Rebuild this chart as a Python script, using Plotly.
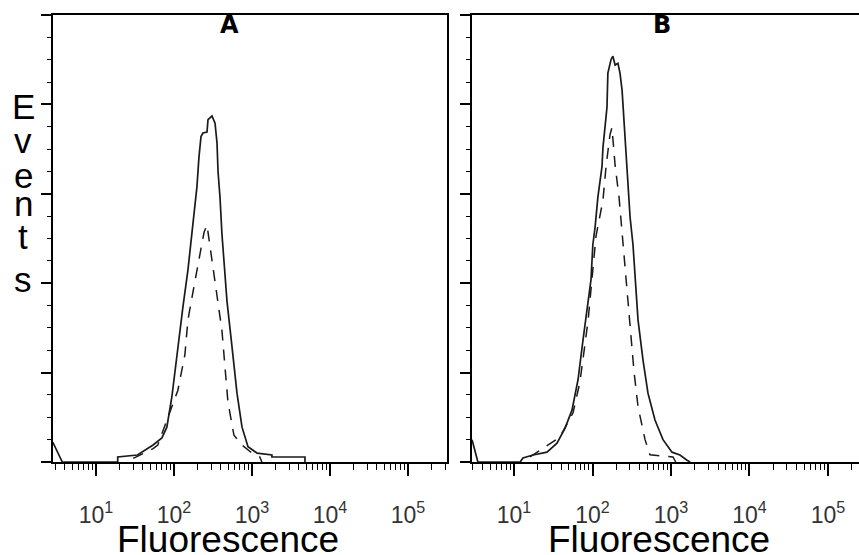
import plotly.graph_objects as go

# ---------------- data ----------------
# Panel A
a_solid_x = [2.8, 3.7, 19, 19, 34, 54, 70, 81, 94, 112, 130, 151, 175, 197, 209, 222, 235, 265, 273,
             307, 336, 356, 367, 389, 412, 438, 478, 554, 642, 745, 889, 1160, 1800, 1800, 4780, 4780]
a_solid_y = [22, 0, 0, 5.6, 7.8, 19, 27, 39, 73, 129, 173, 215, 269, 308, 341, 364, 368, 369, 383,
             387, 379, 357, 325, 296, 255, 220, 180, 129, 77, 39, 17, 10, 7.8, 5.6, 5.6, 0]
a_dash_x = [30, 54, 62, 89, 112, 138, 151, 180, 222, 243, 265, 307, 356, 412, 451, 492, 587, 745,
            1000, 1260, 1340]
a_dash_y = [4, 15, 19, 55, 80, 120, 159, 196, 237, 257, 265, 224, 186, 147, 106, 67, 30, 19,
            10, 5.6, 0]

# Panel B
b_solid_x = [2.92, 3.47, 12, 13, 17.5, 26.3, 35.3, 44.7, 54.8, 65.4, 75.6, 85.1, 95.7, 101, 108, 117,
             132, 136, 153, 157, 172, 182, 194, 211, 224, 238, 252, 267, 283, 301, 328, 348, 380,
             440, 509, 625, 791, 1030, 1300, 1600, 1750]
b_solid_y = [25, 0, 0, 4.5, 7.8, 11, 21, 38, 58, 92, 136, 170, 204, 243, 263, 296,
             330, 352, 397, 435, 450, 454, 444, 446, 435, 416, 383, 349, 308, 274, 243, 208, 159,
             114, 77, 47, 25, 11, 7.8, 2, 0]
b_dash_x = [16, 38.5, 56.5, 69, 80, 88, 101, 111, 136, 149, 167, 177, 194, 218, 238, 259, 283, 309,
            338, 380, 467, 540, 1060, 1150]
b_dash_y = [5.6, 28, 55, 89, 131, 159, 215, 253, 293, 331, 366, 374, 332, 296, 257, 218, 181, 142,
            101, 62, 25, 8, 5.6, 0]

tick_vals = [10, 100, 1000, 10000, 100000]
tick_text = ["10<sup>1</sup>", "10<sup>2</sup>", "10<sup>3</sup>", "10<sup>4</sup>", "10<sup>5</sup>"]
panel_titles = ["A", "B"]
x_title = "Fluorescence"
y_title = "Events"

# ---------------- figure ----------------
W, H = 859, 555
fig = go.Figure()

solid = dict(color="#1a1a1a", width=1.7)
dashed = dict(color="#1a1a1a", width=1.5, dash="11px,9px")

fig.add_trace(go.Scatter(x=a_solid_x, y=a_solid_y, mode="lines", line=solid, xaxis="x", yaxis="y"))
fig.add_trace(go.Scatter(x=a_dash_x, y=a_dash_y, mode="lines", line=dashed, xaxis="x", yaxis="y"))
fig.add_trace(go.Scatter(x=b_solid_x, y=b_solid_y, mode="lines", line=solid, xaxis="x2", yaxis="y2"))
fig.add_trace(go.Scatter(x=b_dash_x, y=b_dash_y, mode="lines", line=dashed, xaxis="x2", yaxis="y2"))

y_dom = [1 - 462 / H, 1 - 15 / H]

def xaxis_cfg(domain, rng, anchor):
    return dict(
        type="log", domain=domain, range=rng, anchor=anchor,
        showgrid=False, zeroline=False, showline=True, linecolor="black", linewidth=2,
        mirror=True,
        ticks="outside", ticklen=12, tickwidth=1.5, tickcolor="black",
        tickmode="array", tickvals=tick_vals, ticktext=tick_text,
        tickfont=dict(family="Liberation Sans, Arial, sans-serif", size=23, color="#333333"),
        ticklabelstandoff=19,
        minor=dict(ticks="outside", ticklen=6, tickwidth=1.2, tickcolor="black", dtick="D1",
                   showgrid=False),
        fixedrange=True,
    )

def yaxis_cfg(anchor, mirror):
    return dict(
        domain=y_dom, range=[0, 500], anchor=anchor,
        showgrid=False, zeroline=False, showline=True, linecolor="black", linewidth=2,
        mirror=mirror,
        ticks="outside", ticklen=10, tickwidth=1.5, tickcolor="black",
        dtick=100, tick0=0, showticklabels=False,
        minor=dict(ticks="outside", ticklen=4, tickwidth=1.2, tickcolor="black", dtick=25,
                   showgrid=False),
        fixedrange=True,
    )

fig.update_layout(
    width=W, height=H,
    margin=dict(l=0, r=0, t=0, b=0),
    paper_bgcolor="white", plot_bgcolor="white",
    showlegend=False,
    xaxis=xaxis_cfg([53 / W, 447 / W], [0.449, 5.5], "y"),
    yaxis=yaxis_cfg("x", True),
    xaxis2=xaxis_cfg([472 / W, 1.0], [0.465, 5.395], "y2"),
    yaxis2=yaxis_cfg("x2", False),
)

annotations = []
# panel titles
for title, xc in zip(panel_titles, [229.5, 662]):
    annotations.append(dict(text="<b>" + title + "</b>", x=xc / W, y=1 - 25.5 / H, xref="paper", yref="paper",
                            xanchor="center", yanchor="middle", showarrow=False,
                            font=dict(family="DejaVu Sans, sans-serif", size=24, color="black")))
# x titles
for xc in [227.5, 659]:
    annotations.append(dict(text=x_title, x=xc / W, y=1 - 539 / H, xref="paper", yref="paper",
                            xanchor="center", yanchor="middle", showarrow=False,
                            font=dict(family="Liberation Sans, Arial, sans-serif", size=37, color="black")))
# stacked y title
baselines = [117, 151, 186, 214, 247, 290]
for ch, bl in zip(y_title, baselines):
    annotations.append(dict(text=ch, x=23 / W, y=1 - (bl - 11) / H, xref="paper", yref="paper",
                            xanchor="center", yanchor="middle", showarrow=False,
                            font=dict(family="Liberation Sans, Arial, sans-serif", size=35, color="black")))
fig.update_layout(annotations=annotations)

fig.write_html("out.html", config=dict(displayModeBar=False),
               post_script="document.body.style.margin='0px';document.body.style.overflow='hidden';")
